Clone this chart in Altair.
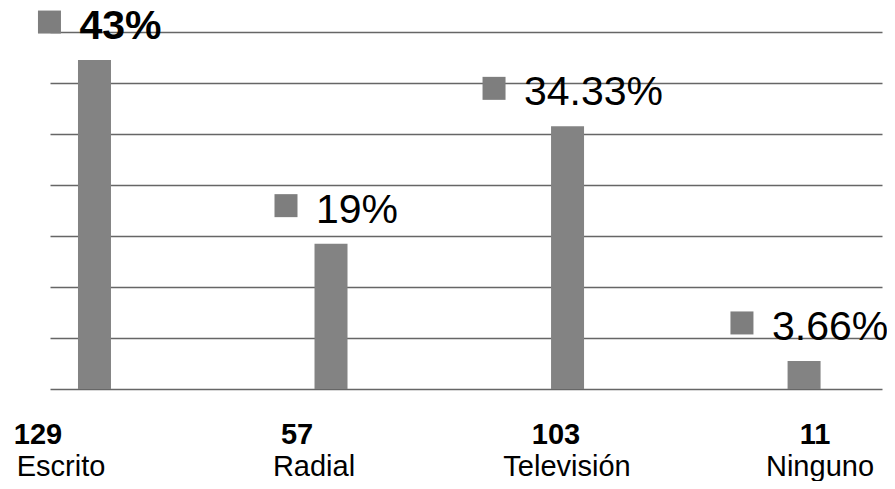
import altair as alt
import pandas as pd

# ---- data ----
categories = ["Escrito", "Radial", "Televisión", "Ninguno"]
counts = [129, 57, 103, 11]
pct_labels = ["43%", "19%", "34.33%", "3.66%"]
y_ticks = [0, 20, 40, 60, 80, 100, 120, 140]

df = pd.DataFrame({
    "category": categories,
    "count": counts,
    "pct": pct_labels,
    "count_label": [str(c) for c in counts],
})

W, H = 832, 357
PCT_FS = 41
BOTTOM_FS = 29
FONT = "Liberation Sans"
BAR_COLOR = "#838383"
KEY_COLOR = "#7e7e7e"
GRID_COLOR = "#666666"
HALF_BAND = 16.5

x_band = alt.X(
    "category:N", sort=categories, axis=None,
    scale=alt.Scale(type="band", paddingInner=0.8605, paddingOuter=0.189, align=0.313),
)
y_axis = alt.Y(
    "count:Q",
    scale=alt.Scale(domain=[0, 140], nice=False, zero=True),
    axis=alt.Axis(values=y_ticks, labels=False, ticks=False, domain=False,
                  grid=True, gridColor=GRID_COLOR, gridWidth=1.5, title=None),
)

base = alt.Chart(df)

bars = base.mark_bar(color=BAR_COLOR).encode(x=x_band, y=y_axis)

# legend-key squares, placed left of each percentage label
has_dot = "(indexof(datum.pct, '.') >= 0 ? 1 : 0)"
markers = base.transform_calculate(
    nd=f"length(datum.pct) - 1 - {has_dot}",
).transform_calculate(
    tw=f"{PCT_FS} * (0.556 * datum.nd + 0.278 * {has_dot} + 0.889)",
).transform_calculate(
    off=f"{HALF_BAND} + 26 - datum.tw / 2 - 30",
).mark_square(size=529, filled=True, color=KEY_COLOR, opacity=1, yOffset=-38).encode(
    x=x_band, y=y_axis, xOffset=alt.XOffset("off:Q", scale=None)
)

pct_common = dict(fontSize=PCT_FS, font=FONT, align="center", baseline="alphabetic",
                  dx=26, dy=-21, color="black")
pct_bold = base.transform_filter(alt.datum.category == "Escrito").mark_text(
    fontWeight="bold", **pct_common
).encode(x=x_band, y=y_axis, text="pct:N")
pct_normal = base.transform_filter(alt.datum.category != "Escrito").mark_text(
    fontWeight="normal", **pct_common
).encode(x=x_band, y=y_axis, text="pct:N")

plot = alt.layer(bars, markers, pct_bold, pct_normal)

names = base.mark_text(fontSize=BOTTOM_FS, font=FONT, align="center", baseline="alphabetic",
                       color="black").encode(
    x=alt.X("category:N", sort=categories, axis=None,
            scale=alt.Scale(type="point", range=[11, 770], padding=0)),
    y=alt.value(H + 87),
    text="category:N",
)
count_text = base.mark_text(fontSize=BOTTOM_FS, font=FONT, fontWeight="bold", align="center",
                            baseline="alphabetic", color="black").encode(
    x=alt.X("category:N", sort=categories, axis=None,
            scale=alt.Scale(type="point", range=[-12, 765], padding=0)),
    y=alt.value(H + 55),
    text="count_label:N",
)

chart = alt.layer(plot, names, count_text).resolve_scale(x="independent").properties(
    width=W, height=H,
    padding={"left": 42, "top": 24, "right": 5, "bottom": 92},
    autosize=alt.AutoSizeParams(type="none"),
    background="white",
).configure_view(stroke=None)

chart.save("out.html", embed_options={"renderer": "svg", "actions": False})
